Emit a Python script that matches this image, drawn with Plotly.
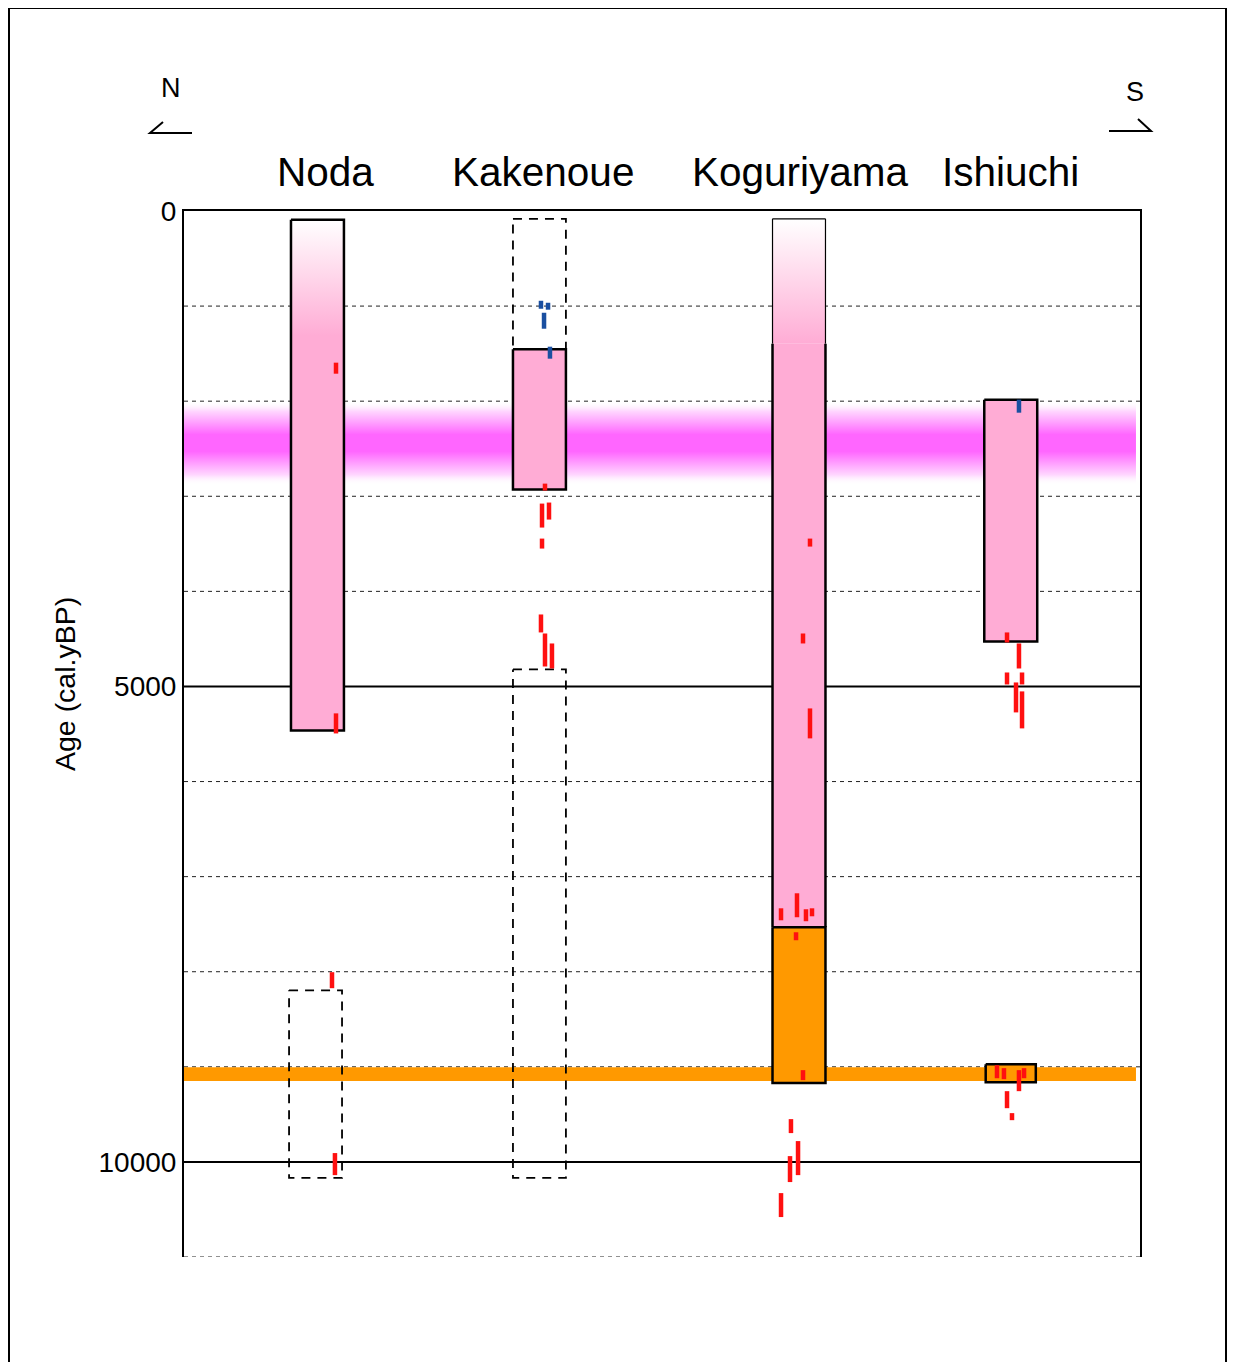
import plotly.graph_objects as go

# ---------------- data ----------------
sites = ["Noda", "Kakenoue", "Koguriyama", "Ishiuchi"]
site_x = [13.96, 37.18, 64.33, 86.48]          # column centres on a 0-100 x scale
title_x = [14.85, 37.55, 64.44, 86.5]
half_w = 2.77

grid_years = [1000, 2000, 3000, 4000, 6000, 7000, 8000, 9000, 11000]
major_years = [5000, 10000]
y_ticks = [0, 5000, 10000]

# horizontal event bands (cal.yBP)
pink_band = [2000, 2880]
orange_band = [9005, 9150]

# Noda
noda_box = [92, 5462]
noda_fade_end = 1311
noda_dashed = [8196, 10167]
# Kakenoue
kake_dashed_upper = [82, 1453]
kake_box = [1453, 2929]
kake_dashed_lower = [4821, 10167]
# Koguriyama
kogu_fade = [82, 1396]
kogu_pink = [1396, 7532]
kogu_orange = [7532, 9171]
# Ishiuchi
ishi_box = [1984, 4527]
ishi_orange = [8972, 9161]

# dated samples (x position on 0-100 scale, age from, age to)
red_x = [15.9, 15.9, 15.48, 15.79,
         37.76, 37.45, 38.18, 37.45, 37.34, 37.76, 38.49,
         65.48, 64.75, 65.48, 62.45, 64.12, 65.06, 65.69, 64.02, 64.75, 63.49, 64.23, 63.39, 62.45,
         86.09, 87.34, 86.09, 87.66, 87.03, 87.66, 85.04, 85.77, 87.34, 87.87, 86.09, 86.61]
red_from = [1595, 5283, 8005, 9907,
            2867, 3077, 3066, 3445, 4243, 4443, 4548,
            3445, 4443, 5231, 7333, 7175, 7343, 7333, 7585, 9035, 9550, 9781, 9939, 10328,
            4432, 4548, 4853, 4853, 4958, 5052, 8983, 9014, 9035, 9014, 9256, 9487]
red_to = [1711, 5494, 8173, 10139,
          2940, 3329, 3245, 3550, 4432, 4790, 4811,
          3529, 4548, 5546, 7459, 7427, 7469, 7417, 7669, 9140, 9697, 10139, 10212, 10580,
          4537, 4811, 4979, 4979, 5273, 5441, 9120, 9130, 9256, 9120, 9435, 9561]
blue_x = [37.34, 38.08, 37.66, 38.28, 87.34]
blue_from = [944, 965, 1070, 1427, 1984]
blue_to = [1028, 1038, 1238, 1553, 2121]

# ---------------- styling ----------------
W, H = 1227, 1354
ML, MT, PW, PH = 176, 203, 956, 1046
MR, MB = W - ML - PW, H - MT - PH
PINK = "#FFACD5"
MAGENTA = "#FF66FF"
ORANGE = "#FF9900"
RED = "#FF1010"
BLUE = "#1A4FA0"
FONT = "Liberation Sans, Arial, sans-serif"


def px(xp):   # page pixel -> paper x
    return (xp - 8 - ML) / PW


def py(yp):   # page pixel -> paper y
    return (MT + PH - (yp - 8)) / PH


def rect_xy(x0, x1, y0, y1):
    return [x0, x1, x1, x0, x0], [y0, y0, y1, y1, y0]


fig = go.Figure()
BAND_X1 = 99.58

# pink (magenta) band with vertical gradient
bx, by = rect_xy(0, BAND_X1, pink_band[0], pink_band[1])
fig.add_trace(go.Scatter(
    x=bx, y=by, mode="lines", fill="toself", line=dict(width=0),
    fillgradient=dict(type="vertical", start=pink_band[0], stop=pink_band[1],
                      colorscale=[[0, "rgba(255,255,255,0)"], [0.12, "#FFD6FF"],
                                  [0.4, MAGENTA], [0.6, MAGENTA],
                                  [0.88, "#FFD6FF"], [1, "rgba(255,255,255,0)"]]),
    hoverinfo="skip", showlegend=False))
# orange band
bx, by = rect_xy(0, BAND_X1, orange_band[0], orange_band[1])
fig.add_trace(go.Scatter(x=bx, y=by, mode="lines", fill="toself", fillcolor=ORANGE,
                         line=dict(width=0), hoverinfo="skip", showlegend=False))


def box(x, rng, fill=None, lw=2.5, dash=None, grad_end=None, hw=half_w):
    xs, ys = rect_xy(x - hw, x + hw, rng[0], rng[1])
    kw = dict(x=xs, y=ys, mode="lines", line=dict(color="black", width=lw),
              hoverinfo="skip", showlegend=False)
    if lw == 0:
        kw["line"] = dict(width=0)
    if dash:
        kw["line"]["dash"] = dash
    if grad_end is not None:
        f = (grad_end - rng[0]) / (rng[1] - rng[0])
        kw["fill"] = "toself"
        kw["fillgradient"] = dict(type="vertical", start=rng[0], stop=rng[1],
                                  colorscale=[[0, "#FFFFFF"], [f, PINK], [1, PINK]])
    elif fill:
        kw["fill"] = "toself"
        kw["fillcolor"] = fill
    fig.add_trace(go.Scatter(**kw))


def open_lines(x, top, bottom, lw, with_top):
    xs = [x - half_w, x - half_w, None, x + half_w, x + half_w]
    ys = [top, bottom, None, top, bottom]
    if with_top:
        xs += [None, x - half_w, x + half_w]
        ys += [None, top, top]
    fig.add_trace(go.Scatter(x=xs, y=ys, mode="lines", line=dict(color="black", width=lw),
                             hoverinfo="skip", showlegend=False))


# Noda
box(site_x[0], noda_box, grad_end=noda_fade_end)
box(site_x[0] - 0.2, noda_dashed, lw=1.8, dash="9px,7px")
# Kakenoue
box(site_x[1], kake_dashed_upper, lw=1.8, dash="9px,7px")
box(site_x[1], kake_box, fill=PINK)
box(site_x[1], kake_dashed_lower, lw=1.8, dash="9px,7px")
# Koguriyama
box(site_x[2], kogu_fade, lw=0, grad_end=kogu_fade[1])
open_lines(site_x[2], kogu_fade[0], kogu_fade[1], 1.2, True)
box(site_x[2], kogu_pink, lw=0, fill=PINK)
open_lines(site_x[2], kogu_pink[0], kogu_pink[1], 2.5, False)
box(site_x[2], kogu_orange, fill=ORANGE)
# Ishiuchi
box(site_x[3], ishi_box, fill=PINK)
box(site_x[3], ishi_orange, fill=ORANGE, hw=2.62)


def marks(xv, y0v, y1v, color):
    xs, ys = [], []
    for a, b, c in zip(xv, y0v, y1v):
        xs += [a, a, None]
        ys += [b, c, None]
    fig.add_trace(go.Scatter(x=xs, y=ys, mode="lines", line=dict(color=color, width=4.5),
                             hoverinfo="skip", showlegend=False))


marks(red_x, red_from, red_to, RED)
marks(blue_x, blue_from, blue_to, BLUE)

shapes = []
for g in grid_years:
    shapes.append(dict(type="line", xref="x", yref="y", x0=0, x1=100, y0=g, y1=g,
                       line=dict(color="#222", width=1, dash="4px,4px"), layer="below"))
for g in major_years:
    shapes.append(dict(type="line", xref="x", yref="y", x0=0, x1=100, y0=g, y1=g,
                       line=dict(color="black", width=2), layer="below"))
# outer frame
shapes.append(dict(type="rect", xref="paper", yref="paper", x0=px(9), x1=px(1226),
                   y0=py(1385), y1=py(8), line=dict(color="black", width=2)))
# N / S direction marks
shapes.append(dict(type="path", xref="paper", yref="paper",
                   path=f"M {px(163)},{py(122)} L {px(150)},{py(133)} L {px(192)},{py(133)}",
                   line=dict(color="black", width=2)))
shapes.append(dict(type="path", xref="paper", yref="paper",
                   path=f"M {px(1109)},{py(131)} L {px(1151)},{py(131)} L {px(1138)},{py(119)}",
                   line=dict(color="black", width=2)))

annotations = []
for name, xc in zip(sites, title_x):
    annotations.append(dict(text=name, x=xc, xref="x", y=py(172), yref="paper",
                            showarrow=False, xanchor="center", yanchor="middle",
                            font=dict(size=40.5, color="black", family=FONT)))
annotations.append(dict(text="N", x=px(171), y=py(88), xref="paper", yref="paper",
                        xanchor="center", yanchor="middle", showarrow=False,
                        font=dict(size=27, color="black", family=FONT)))
annotations.append(dict(text="S", x=px(1135), y=py(92), xref="paper", yref="paper",
                        xanchor="center", yanchor="middle", showarrow=False,
                        font=dict(size=27, color="black", family=FONT)))
annotations.append(dict(text="Age (cal.yBP)", x=px(65), y=py(684), xref="paper",
                        yref="paper", xanchor="center", yanchor="middle",
                        showarrow=False, textangle=-90,
                        font=dict(size=28.5, color="black", family=FONT)))

fig.update_layout(
    width=W, height=H, margin=dict(l=ML, r=MR, t=MT, b=MB, autoexpand=False),
    paper_bgcolor="white", plot_bgcolor="white",
    shapes=shapes, annotations=annotations, showlegend=False,
    xaxis=dict(range=[0, 100], side="top", showline=True, linecolor="black", linewidth=2,
               showticklabels=False, ticks="", showgrid=False, zeroline=False, fixedrange=True),
    yaxis=dict(range=[11000, 0], showline=True, mirror=True, linecolor="black", linewidth=2,
               tickvals=y_ticks, ticktext=[str(t) for t in y_ticks], ticks="",
               ticklabelstandoff=0,
               tickfont=dict(size=28, color="black", family=FONT),
               showgrid=False, zeroline=False, fixedrange=True),
)

fig.write_html("out.html",
               post_script="document.documentElement.style.overflow='hidden';"
                           "document.body.style.overflow='hidden';")
